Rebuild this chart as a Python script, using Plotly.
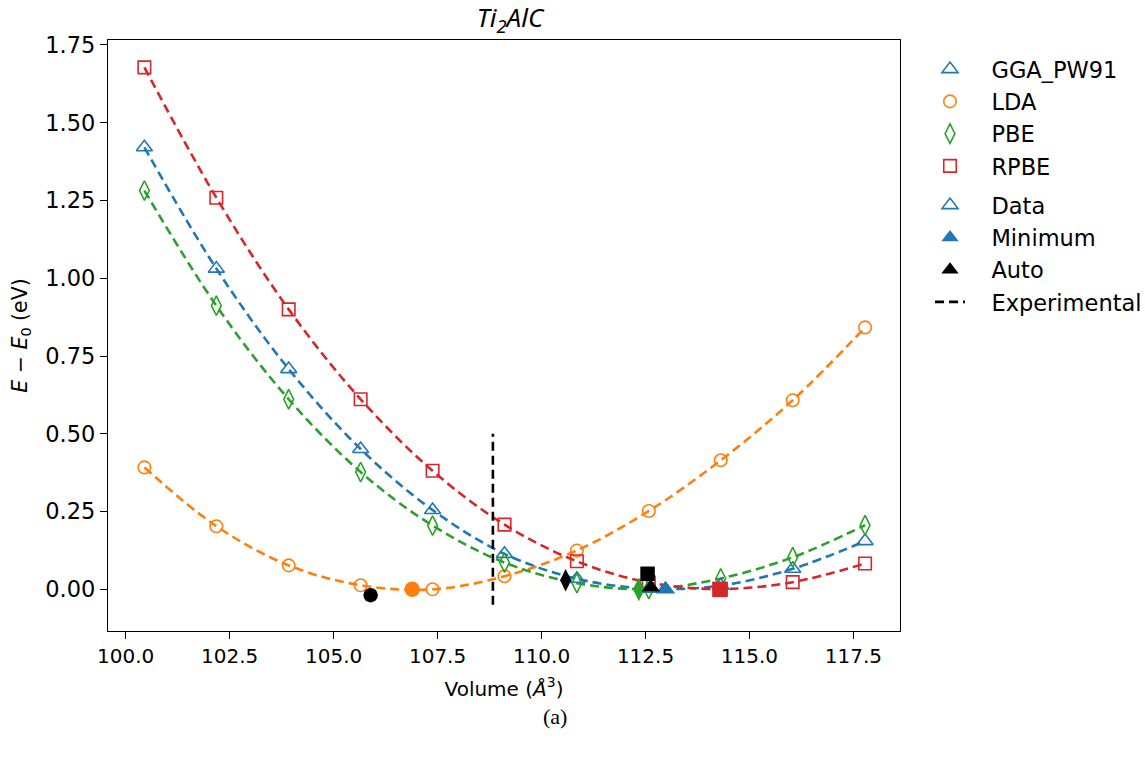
import plotly.graph_objects as go

# ---- data ----
volumes = [100.45, 102.18, 103.92, 105.65, 107.38, 109.11, 110.85, 112.58, 114.31, 116.04, 117.78]
gga_pw91 = [1.421, 1.031, 0.708, 0.451, 0.255, 0.114, 0.034, 0.002, 0.012, 0.066, 0.155]
lda = [0.392, 0.203, 0.077, 0.013, 0.000, 0.042, 0.125, 0.252, 0.415, 0.608, 0.842]
pbe = [1.282, 0.912, 0.611, 0.377, 0.205, 0.086, 0.020, 0.001, 0.035, 0.103, 0.206]
rpbe = [1.678, 1.259, 0.900, 0.611, 0.381, 0.208, 0.090, 0.022, 0.001, 0.023, 0.083]

min_x = {"GGA_PW91": 112.98, "LDA": 106.89, "PBE": 112.34, "RPBE": 114.29}
min_y = {"GGA_PW91": 0.0, "LDA": 0.0, "PBE": 0.0, "RPBE": 0.0}
auto_x = {"GGA_PW91": 112.63, "LDA": 105.89, "PBE": 110.58, "RPBE": 112.55}
auto_y = {"GGA_PW91": 0.006, "LDA": -0.019, "PBE": 0.029, "RPBE": 0.05}

exp_volume = 108.83
exp_y = [-0.05, 0.5]

names = ["GGA_PW91", "LDA", "PBE", "RPBE"]
series = {"GGA_PW91": gga_pw91, "LDA": lda, "PBE": pbe, "RPBE": rpbe}
colors = {"GGA_PW91": "#1f77b4", "LDA": "#ff7f0e", "PBE": "#2ca02c", "RPBE": "#d62728"}
symbols = {"GGA_PW91": "triangle-up", "LDA": "circle", "PBE": "diamond-tall", "RPBE": "square"}
sizes = {"GGA_PW91": 14, "LDA": 12.5, "PBE": 14, "RPBE": 12.5}

x_ticks = [100.0, 102.5, 105.0, 107.5, 110.0, 112.5, 115.0, 117.5]
y_ticks = [0.0, 0.25, 0.5, 0.75, 1.0, 1.25, 1.5, 1.75]

FONT = "DejaVu Sans"
PAD = "\u00a0\u00a0\u00a0"
fig = go.Figure()

# fitted dashed curves
for n in names:
    fig.add_trace(go.Scatter(
        x=volumes, y=series[n], mode="lines", line_shape="spline",
        line=dict(color=colors[n], width=2.6, dash="9px,5px"),
        showlegend=False, hoverinfo="skip"))

# data markers
for i, n in enumerate(names):
    fig.add_trace(go.Scatter(
        x=volumes, y=series[n], mode="markers", name=PAD + n,
        marker=dict(symbol=symbols[n] + "-open", size=sizes[n], color=colors[n],
                    line=dict(width=1.6, color=colors[n])),
        legendgroup="a", legendrank=i + 1))

# minimum markers
for n in names:
    fig.add_trace(go.Scatter(
        x=[min_x[n]], y=[min_y[n]], mode="markers",
        marker=dict(symbol=symbols[n], size=sizes[n] + 3, color=colors[n]),
        showlegend=False))

# auto markers
for n in names:
    fig.add_trace(go.Scatter(
        x=[auto_x[n]], y=[auto_y[n]], mode="markers",
        marker=dict(symbol=symbols[n], size=sizes[n] + 2, color="black"),
        showlegend=False))

# experimental line
fig.add_trace(go.Scatter(
    x=[exp_volume, exp_volume], y=exp_y, mode="lines", name=PAD + "Experimental",
    line=dict(color="black", width=2.6, dash="9px,5px"),
    legendgroup="b", legendrank=8))

# legend-only entries
fig.add_trace(go.Scatter(x=[None], y=[None], mode="markers", name=PAD + "Data",
                         marker=dict(symbol="triangle-up-open", size=14, color=colors["GGA_PW91"],
                                     line=dict(width=1.6, color=colors["GGA_PW91"])),
                         legendgroup="b", legendrank=5))
fig.add_trace(go.Scatter(x=[None], y=[None], mode="markers", name=PAD + "Minimum",
                         marker=dict(symbol="triangle-up", size=15, color=colors["GGA_PW91"]),
                         legendgroup="b", legendrank=6))
fig.add_trace(go.Scatter(x=[None], y=[None], mode="markers", name=PAD + "Auto",
                         marker=dict(symbol="triangle-up", size=15, color="black"),
                         legendgroup="b", legendrank=7))

axis_common = dict(showline=True, linecolor="black", linewidth=1.3, mirror=True,
                   ticks="outside", ticklen=7, tickwidth=1.3, tickcolor="black",
                   showgrid=False, zeroline=False)

fig.update_layout(
    width=1145, height=758,
    margin=dict(l=108, r=245, t=40, b=127, autoexpand=False),
    paper_bgcolor="white", plot_bgcolor="white",
    title=dict(text="<i>Ti<sub>2</sub>AlC</i>", x=510 / 1145, xanchor="center",
               y=1 - 18 / 758, yanchor="middle",
               font=dict(family="Noto Sans", size=26, color="black")),
    xaxis=dict(range=[99.575, 118.62], tickvals=x_ticks,
               ticktext=[f"{v:.1f}" for v in x_ticks],
               tickfont=dict(family=FONT, size=20, color="black"),
               title=dict(text="Volume (<i>Å</i><sup>3</sup>)",
                          font=dict(family=FONT, size=20, color="black"), standoff=14),
               **axis_common),
    yaxis=dict(range=[-0.134, 1.766], tickvals=y_ticks,
               ticktext=[f"{v:.2f}" for v in y_ticks],
               tickfont=dict(family=FONT, size=22.5, color="black"),
               title=dict(text="<i>E</i> − <i>E</i><sub>0</sub> (eV)",
                          font=dict(family=FONT, size=20.5, color="black"), standoff=12),
               **axis_common),
    legend=dict(x=(930 - 108) / 792, y=1 - (48 - 40) / 591, xanchor="left", yanchor="top",
                font=dict(family=FONT, size=22.5, color="black"),
                tracegroupgap=7, traceorder="grouped", bgcolor="rgba(0,0,0,0)",
                itemsizing="trace"),
    annotations=[dict(text="(a)", x=(555 - 108) / 792, y=(631 - 716) / 591,
                      xref="paper", yref="paper",
                      showarrow=False, xanchor="center", yanchor="middle",
                      font=dict(family="Liberation Serif", size=22, color="black"))],
)

fig.write_html("out.html")
